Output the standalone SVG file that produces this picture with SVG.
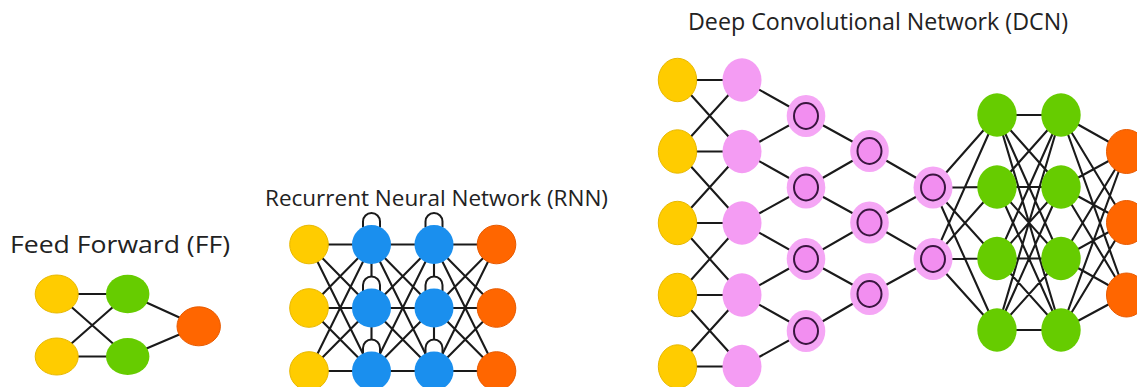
<svg xmlns="http://www.w3.org/2000/svg" width="1137" height="387" viewBox="0 0 1137 387">
<style>
.e{stroke:#1a1a1a;stroke-width:2.1;fill:none;stroke-linecap:round}
.loop{stroke:#1a1a1a;stroke-width:2;fill:#fff}
.y{fill:#ffcc00;stroke:#e8b800;stroke-width:1}
.g{fill:#66cc00}
.o{fill:#ff6600;stroke:#e85a00;stroke-width:1}
.b{fill:#1a8fee}
.p{fill:#f49cf3}
.pr{fill:#f5a6f5}
.ring{fill:#f28ef0;stroke:#3a1540;stroke-width:2}
.t{font-family:"Open Sans","DejaVu Sans",sans-serif;fill:#222}
</style>
<rect width="1137" height="387" fill="#fff"/>
<g id="titles">
<text class="t" x="10" y="253" font-size="23" textLength="220" lengthAdjust="spacingAndGlyphs">Feed Forward (FF)</text>
<text class="t" x="265" y="206" font-size="21" textLength="343" lengthAdjust="spacingAndGlyphs">Recurrent Neural Network (RNN)</text>
<text class="t" x="688" y="30" font-size="23" textLength="380" lengthAdjust="spacingAndGlyphs">Deep Convolutional Network (DCN)</text>
</g>
<g id="connectors">
<!-- FF -->
<path class="e" d="M56.7 294L127.7 294M56.7 294L127.7 356.5M56.7 356.5L127.7 294M56.7 356.5L127.7 356.5M127.7 294L198.7 326.3M127.7 356.5L198.7 326.3"/>
<!-- RNN -->
<path class="e" d="M309 244.5L371.5 244.5M309 244.5L371.5 308M309 244.5L371.5 371M309 308L371.5 244.5M309 308L371.5 308M309 308L371.5 371M309 371L371.5 244.5M309 371L371.5 308M309 371L371.5 371"/>
<path class="e" d="M371.5 244.5L434 244.5M371.5 244.5L434 308M371.5 244.5L434 371M371.5 308L434 244.5M371.5 308L434 308M371.5 308L434 371M371.5 371L434 244.5M371.5 371L434 308M371.5 371L434 371"/>
<path class="e" d="M434 244.5L496.5 244.5M434 244.5L496.5 308M434 244.5L496.5 371M434 308L496.5 244.5M434 308L496.5 308M434 308L496.5 371M434 371L496.5 244.5M434 371L496.5 308M434 371L496.5 371"/>
<path class="e" d="M371.5 244.5L371.5 371M434 244.5L434 371"/>
<path class="loop" d="M363 227.5L363 221.5A8.5 8.5 0 0 1 380 221.5L380 227.5M425.5 227.5L425.5 221.5A8.5 8.5 0 0 1 442.5 221.5L442.5 227.5"/>
<path class="loop" d="M363 291L363 285A8.5 8.5 0 0 1 380 285L380 291M425.5 291L425.5 285A8.5 8.5 0 0 1 442.5 285L442.5 291"/>
<path class="loop" d="M363 354L363 348A8.5 8.5 0 0 1 380 348L380 354M425.5 354L425.5 348A8.5 8.5 0 0 1 442.5 348L442.5 354"/>
<!-- DCN -->
<path class="e" d="M677.5 80L742 80M677.5 80L742 151.5M677.5 151.5L742 80M677.5 151.5L742 151.5M677.5 151.5L742 223M677.5 223L742 151.5M677.5 223L742 223M677.5 223L742 295M677.5 295L742 223M677.5 295L742 295M677.5 295L742 366.5M677.5 366.5L742 295M677.5 366.5L742 366.5"/>
<path class="e" d="M742 80L806 116M742 151.5L806 116M742 151.5L806 187.5M742 223L806 187.5M742 223L806 259M742 295L806 259M742 295L806 331M742 366.5L806 331"/>
<path class="e" d="M806 116L869.5 151M806 187.5L869.5 151M806 187.5L869.5 222.5M806 259L869.5 222.5M806 259L869.5 294M806 331L869.5 294"/>
<path class="e" d="M869.5 151L933 187.5M869.5 222.5L933 187.5M869.5 222.5L933 259M869.5 294L933 259"/>
<path class="e" d="M933 187.5L997 115M933 187.5L997 187M933 187.5L997 258.5M933 187.5L997 330M933 259L997 115M933 259L997 187M933 259L997 258.5M933 259L997 330"/>
<path class="e" d="M997 115L1061 115M997 115L1061 187M997 115L1061 258.5M997 115L1061 330M997 187L1061 115M997 187L1061 187M997 187L1061 258.5M997 187L1061 330M997 258.5L1061 115M997 258.5L1061 187M997 258.5L1061 258.5M997 258.5L1061 330M997 330L1061 115M997 330L1061 187M997 330L1061 258.5M997 330L1061 330"/>
<path class="e" d="M1061 115L1126 151.5M1061 115L1126 222.5M1061 115L1126 295M1061 187L1126 151.5M1061 187L1126 222.5M1061 187L1126 295M1061 258.5L1126 151.5M1061 258.5L1126 222.5M1061 258.5L1126 295M1061 330L1126 151.5M1061 330L1126 222.5M1061 330L1126 295"/>
</g>
<!-- FF nodes -->
<g id="ff-in1"><ellipse class="y" cx="56.7" cy="294" rx="21.5" ry="19"/></g>
<g id="ff-in2"><ellipse class="y" cx="56.7" cy="356.5" rx="21.5" ry="18.5"/></g>
<g id="ff-h1"><ellipse class="g" cx="127.7" cy="294" rx="21.7" ry="19.3"/></g>
<g id="ff-h2"><ellipse class="g" cx="127.7" cy="356.5" rx="21.7" ry="18.5"/></g>
<g id="ff-out"><ellipse class="o" cx="198.7" cy="326.3" rx="21.7" ry="19.5"/></g>
<!-- RNN nodes -->
<g id="rnn-in1"><circle class="y" cx="309" cy="244.5" r="19.3"/></g>
<g id="rnn-in2"><circle class="y" cx="309" cy="308" r="19.3"/></g>
<g id="rnn-in3"><circle class="y" cx="309" cy="371" r="19.3"/></g>
<g id="rnn-h1a"><circle class="b" cx="371.5" cy="244.5" r="19.5"/></g>
<g id="rnn-h1b"><circle class="b" cx="371.5" cy="308" r="19.5"/></g>
<g id="rnn-h1c"><circle class="b" cx="371.5" cy="371" r="19.5"/></g>
<g id="rnn-h2a"><circle class="b" cx="434" cy="244.5" r="19.5"/></g>
<g id="rnn-h2b"><circle class="b" cx="434" cy="308" r="19.5"/></g>
<g id="rnn-h2c"><circle class="b" cx="434" cy="371" r="19.5"/></g>
<g id="rnn-out1"><circle class="o" cx="496.5" cy="244.5" r="19.3"/></g>
<g id="rnn-out2"><circle class="o" cx="496.5" cy="308" r="19.3"/></g>
<g id="rnn-out3"><circle class="o" cx="496.5" cy="371" r="19.3"/></g>
<!-- DCN input -->
<g id="dcn-in1"><ellipse class="y" cx="677.5" cy="80" rx="19.2" ry="21.7"/></g>
<g id="dcn-in2"><ellipse class="y" cx="677.5" cy="151.5" rx="19.2" ry="21.7"/></g>
<g id="dcn-in3"><ellipse class="y" cx="677.5" cy="223" rx="19.2" ry="21.7"/></g>
<g id="dcn-in4"><ellipse class="y" cx="677.5" cy="295" rx="19.2" ry="21.7"/></g>
<g id="dcn-in5"><ellipse class="y" cx="677.5" cy="366.5" rx="19.2" ry="21.7"/></g>
<!-- DCN kernel layer -->
<g id="dcn-k1"><ellipse class="p" cx="742" cy="80" rx="19.5" ry="21.7"/></g>
<g id="dcn-k2"><ellipse class="p" cx="742" cy="151.5" rx="19.5" ry="21.7"/></g>
<g id="dcn-k3"><ellipse class="p" cx="742" cy="223" rx="19.5" ry="21.7"/></g>
<g id="dcn-k4"><ellipse class="p" cx="742" cy="295" rx="19.5" ry="21.7"/></g>
<g id="dcn-k5"><ellipse class="p" cx="742" cy="366.5" rx="19.5" ry="21.7"/></g>
<!-- DCN conv layers -->
<g id="dcn-c1a"><ellipse class="pr" cx="806" cy="116" rx="19.3" ry="21"/><ellipse class="ring" cx="806" cy="116" rx="12" ry="13"/></g>
<g id="dcn-c1b"><ellipse class="pr" cx="806" cy="187.5" rx="19.3" ry="21"/><ellipse class="ring" cx="806" cy="187.5" rx="12" ry="13"/></g>
<g id="dcn-c1c"><ellipse class="pr" cx="806" cy="259" rx="19.3" ry="21"/><ellipse class="ring" cx="806" cy="259" rx="12" ry="13"/></g>
<g id="dcn-c1d"><ellipse class="pr" cx="806" cy="331" rx="19.3" ry="21"/><ellipse class="ring" cx="806" cy="331" rx="12" ry="13"/></g>
<g id="dcn-c2a"><ellipse class="pr" cx="869.5" cy="151" rx="19.3" ry="21"/><ellipse class="ring" cx="869.5" cy="151" rx="12" ry="13"/></g>
<g id="dcn-c2b"><ellipse class="pr" cx="869.5" cy="222.5" rx="19.3" ry="21"/><ellipse class="ring" cx="869.5" cy="222.5" rx="12" ry="13"/></g>
<g id="dcn-c2c"><ellipse class="pr" cx="869.5" cy="294" rx="19.3" ry="21"/><ellipse class="ring" cx="869.5" cy="294" rx="12" ry="13"/></g>
<g id="dcn-c3a"><ellipse class="pr" cx="933" cy="187.5" rx="19.5" ry="21"/><ellipse class="ring" cx="933" cy="187.5" rx="12" ry="13"/></g>
<g id="dcn-c3b"><ellipse class="pr" cx="933" cy="259" rx="19.5" ry="21"/><ellipse class="ring" cx="933" cy="259" rx="12" ry="13"/></g>
<!-- DCN hidden -->
<g id="dcn-h1a"><ellipse class="g" cx="997" cy="115" rx="19.7" ry="21.7"/></g>
<g id="dcn-h1b"><ellipse class="g" cx="997" cy="187" rx="19.7" ry="21.7"/></g>
<g id="dcn-h1c"><ellipse class="g" cx="997" cy="258.5" rx="19.7" ry="21.7"/></g>
<g id="dcn-h1d"><ellipse class="g" cx="997" cy="330" rx="19.7" ry="21.7"/></g>
<g id="dcn-h2a"><ellipse class="g" cx="1061" cy="115" rx="19.7" ry="21.7"/></g>
<g id="dcn-h2b"><ellipse class="g" cx="1061" cy="187" rx="19.7" ry="21.7"/></g>
<g id="dcn-h2c"><ellipse class="g" cx="1061" cy="258.5" rx="19.7" ry="21.7"/></g>
<g id="dcn-h2d"><ellipse class="g" cx="1061" cy="330" rx="19.7" ry="21.7"/></g>
<!-- DCN output -->
<g id="dcn-out1"><ellipse class="o" cx="1126.5" cy="151.5" rx="20" ry="22"/></g>
<g id="dcn-out2"><ellipse class="o" cx="1126.5" cy="222.5" rx="20" ry="22"/></g>
<g id="dcn-out3"><ellipse class="o" cx="1126.5" cy="295" rx="20" ry="22"/></g>
</svg>
